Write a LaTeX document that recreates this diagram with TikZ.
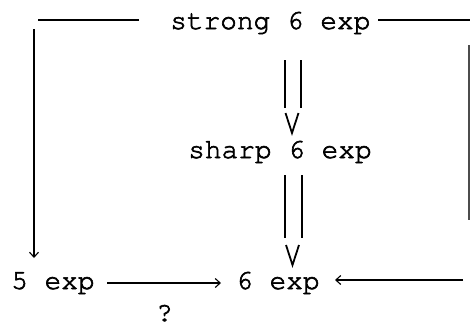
\documentclass[tikz,border=0pt]{standalone}
\usepackage{fontspec}
\newfontfamily\cur{texgyrecursor-regular.otf}[FakeBold=2.2]
\usetikzlibrary{arrows.meta}
\begin{document}
\begin{tikzpicture}[x=1pt,y=-1pt,
  lbl/.style={inner sep=0pt,anchor=base west,font=\cur\fontsize{27.8}{30}\selectfont},
  ln/.style={line width=1.1pt},
  tip/.style={ln,-{Straight Barb[length=5pt,width=9pt]}},
  vee/.style={line width=1.8pt,line join=miter}]
\useasboundingbox (0,0) rectangle (470,327);
\node[lbl] (strong) at (170,29) {strong 6 exp};
\node[lbl] (sharp) at (188,158) {sharp 6 exp};
\node[lbl] (six) at (236,289) {6 exp};
\node[lbl] (five) at (11,289) {5 exp};
\node[lbl] (q) at (156,321) {?};
% top-left route
\coordinate (tl) at (38,20);
\coordinate (lv) at (34,29);
\coordinate (lvend) at (34,258);
\draw[ln] (139,20) -- (tl);
\draw[tip] (lv) -- (lvend);
% top-right route
\coordinate (tr) at (470,20);
\coordinate (rv1) at (469,45);
\coordinate (rv2) at (469,220);
\coordinate (rs) at (463,280);
\draw[ln] (378,20) -- (tr);
\draw[ln,black!70] (rv1) -- (rv2);
\draw[tip] (rs) -- (335,280);
% bottom arrow
\draw[tip] (107,283) -- (221,283);
% double arrows
\draw[ln] (285,60) -- (285,108);
\draw[ln] (301,60) -- (301,108);
\draw[vee] (285.5,113) -- (292,133) -- (298.5,113);
\draw[ln] (285,175) -- (285,238);
\draw[ln] (302,175) -- (302,238);
\draw[vee] (286,245) -- (292.5,265) -- (299,245);
\end{tikzpicture}
\end{document}
